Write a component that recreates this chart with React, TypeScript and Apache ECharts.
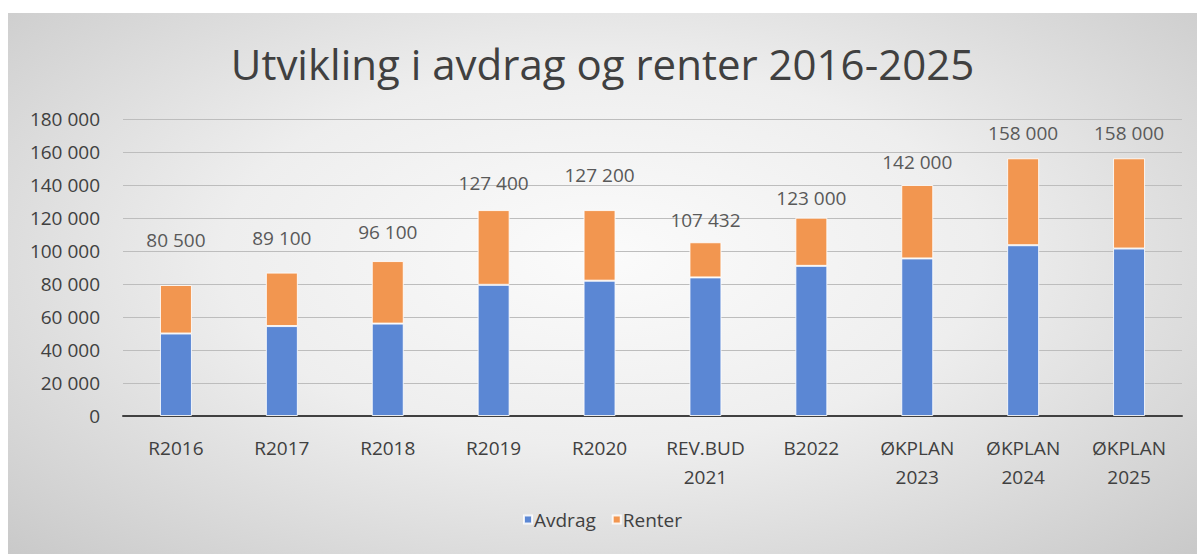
import React, { useEffect, useRef } from "react";
import * as echarts from "echarts";

const categories = [
  "R2016",
  "R2017",
  "R2018",
  "R2019",
  "R2020",
  "REV.BUD 2021",
  "B2022",
  "ØKPLAN 2023",
  "ØKPLAN 2024",
  "ØKPLAN 2025",
];
const avdrag = [50000, 54500, 56000, 79500, 82000, 84000, 91000, 95500, 103500, 101500];
const renter = [29400, 32400, 37900, 45300, 42800, 21300, 29200, 44500, 52700, 54700];
const totals = [80500, 89100, 96100, 127400, 127200, 107432, 123000, 142000, 158000, 158000];
const labelLift = [35, 25, 20, 18, 26, 13, 10, 14, 16, 16];
const yTicks = { min: 0, max: 180000, interval: 20000 };

const fmt = (v: number) => String(Math.round(v)).replace(/\B(?=(\d{3})+(?!\d))/g, " ");

const FONT = "'Open Sans', 'Noto Sans', sans-serif";

export default function App() {
  const ref = useRef<HTMLDivElement>(null);
  useEffect(() => {
    if (!ref.current) return;
    const chart = echarts.init(ref.current, undefined, { renderer: "svg" });
    chart.setOption({
      animation: false,
      backgroundColor: "transparent",
      title: {
        text: "Utvikling i avdrag og renter 2016-2025",
        left: "center",
        top: 29,
        padding: 0,
        textStyle: { fontFamily: FONT, fontSize: 42, fontWeight: "normal", color: "#404040" },
      },
      legend: {
        bottom: 20,
        left: "center",
        itemWidth: 8,
        itemHeight: 8,
        itemGap: 16,
        icon: "rect",
        textStyle: { fontFamily: FONT, fontSize: 19, color: "#404040", padding: [0, 0, 0, -3] },
        data: ["Avdrag", "Renter"],
      },
      grid: { left: 115, right: 15, top: 106, bottom: 138, containLabel: false },
      xAxis: {
        type: "category",
        data: categories,
        axisLine: { lineStyle: { color: "#404040", width: 2 } },
        axisTick: { show: false },
        axisLabel: {
          fontFamily: FONT,
          fontSize: 19,
          color: "#404040",
          lineHeight: 29,
          margin: 17,
          interval: 0,
          formatter: (v: string) => v.replace(" ", "\n"),
        },
      },
      yAxis: {
        type: "value",
        min: yTicks.min,
        max: yTicks.max,
        interval: yTicks.interval,
        axisLine: { show: false },
        axisTick: { show: false },
        splitLine: { lineStyle: { color: "#bdbdbd", width: 1 } },
        axisLabel: {
          fontFamily: FONT,
          fontSize: 19,
          color: "#404040",
          margin: 23,
          formatter: (v: number) => fmt(v),
        },
      },
      series: [
        {
          name: "Avdrag",
          type: "bar",
          stack: "total",
          barWidth: 32,
          itemStyle: { color: "#5b87d4", borderColor: "rgba(255,255,255,0.85)", borderWidth: 1 },
          data: avdrag,
        },
        {
          name: "Renter",
          type: "bar",
          stack: "total",
          barWidth: 32,
          itemStyle: { color: "#f29650", borderColor: "rgba(255,255,255,0.85)", borderWidth: 1 },
          data: renter.map((v, i) => ({
            value: v,
            label: {
              show: true,
              position: "top",
              distance: labelLift[i],
              formatter: () => fmt(totals[i]),
              fontFamily: FONT,
              fontSize: 19,
              color: "#595959",
            },
          })),
        },
      ],
    });
    return () => chart.dispose();
  }, []);
  return (
    <div
      style={{
        position: "absolute",
        left: 8,
        top: 13,
        width: 1189,
        height: 541,
        background: "radial-gradient(ellipse at 50% 45%, #fbfbfb 0%, #eeeeee 45%, #c9c9c9 100%)",
      }}
    >
      <div ref={ref} style={{ width: 1189, height: 541 }} />
    </div>
  );
}
